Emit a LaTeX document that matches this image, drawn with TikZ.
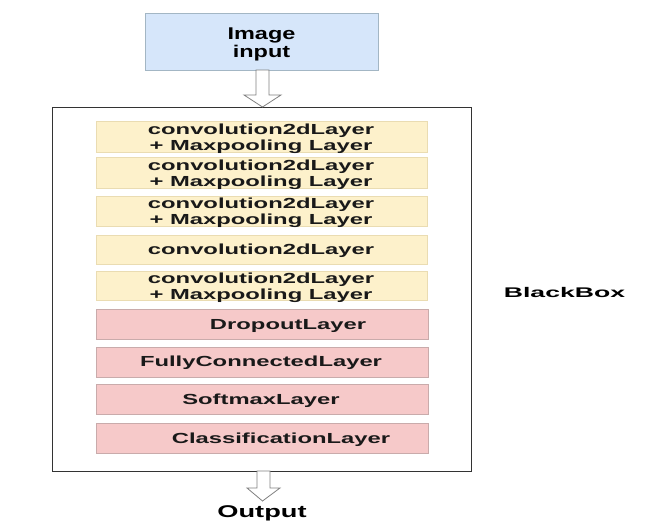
\documentclass[tikz,border=0pt]{standalone}
\usepackage{fontspec}
\usetikzlibrary{calc}
\newfontfamily\wideA[FakeStretch=1.63,UprightFont=* Bold]{Liberation Sans}
\newfontfamily\wideB[FakeStretch=1.38,UprightFont=* Bold]{Liberation Sans}
\newfontfamily\wideC[FakeStretch=1.6,UprightFont=* Bold]{Liberation Sans}
\newfontfamily\wideD[FakeStretch=1.9,UprightFont=* Bold]{Liberation Sans}
\definecolor{bluefill}{HTML}{D6E6FA}
\definecolor{blueline}{HTML}{A3B6C4}
\definecolor{yelfill}{HTML}{FDF1CB}
\definecolor{yelline}{HTML}{EADCB2}
\definecolor{pinkfill}{HTML}{F6C9C9}
\definecolor{pinkline}{HTML}{C9ABAB}
\definecolor{arrowline}{HTML}{808080}
\begin{document}
\begin{tikzpicture}[x=1pt,y=-1pt,
  inbox/.style={draw=blueline,fill=bluefill,line width=1pt,inner sep=0pt},
  convbox/.style={draw=yelline,fill=yelfill,line width=0.8pt,inner sep=0pt},
  densebox/.style={draw=pinkline,fill=pinkfill,line width=0.8pt,inner sep=0pt},
  layertext/.style={font=\wideA\fontsize{14.6}{16}\selectfont,align=center,text=black!90,inner sep=0pt},
  hollowarrow/.style={draw=arrowline,fill=white,line width=0.8pt,line join=miter}]
\useasboundingbox (0,0) rectangle (657,528);
% outer black box
\draw[black!80,line width=1pt] (52,107) rectangle (471,471);
\coordinate (bbN) at (262.5,107);
\coordinate (bbS) at (263.5,471);
% input
\draw[inbox] (145,13) rectangle (378,70);
\node[font=\wideB\fontsize{17}{18.5}\selectfont,align=center,inner sep=0pt] (input) at (261.5,44.5) {Image\\input};
\coordinate (inS) at (262.5,70);
% layers
\draw[convbox] (96,121) rectangle (427,152);
\node[layertext] (l1) at (261,138.5) {convolution2dLayer\\+ Maxpooling Layer};
\draw[convbox] (96,157) rectangle (427,188);
\node[layertext] (l2) at (261,174.5) {convolution2dLayer\\+ Maxpooling Layer};
\draw[convbox] (96,196) rectangle (427,226);
\node[layertext] (l3) at (261,213) {convolution2dLayer\\+ Maxpooling Layer};
\draw[convbox] (96,235) rectangle (427,264);
\node[layertext] (l4) at (261,251) {convolution2dLayer};
\draw[convbox] (96,271) rectangle (427,300);
\node[layertext] (l5) at (261,287.5) {convolution2dLayer\\+ Maxpooling Layer};
\draw[densebox] (96,309) rectangle (428,339);
\node[layertext] (l6) at (288,326) {DropoutLayer};
\draw[densebox] (96,347) rectangle (428,377);
\node[layertext] (l7) at (261,363) {FullyConnectedLayer};
\draw[densebox] (96,384) rectangle (428,414);
\node[layertext] (l8) at (261,400.5) {SoftmaxLayer};
\draw[densebox] (96,423) rectangle (428,453);
\node[layertext] (l9) at (281,439.5) {ClassificationLayer};
% labels
\node[font=\wideD\fontsize{14}{16}\selectfont,inner sep=0pt] (bbl) at (564.5,292) {BlackBox};
\node[font=\wideC\fontsize{17}{19}\selectfont,inner sep=0pt] (out) at (262,513) {Output};
\coordinate (outN) at (262.5,501);
% arrows
\draw[hollowarrow] ($(inS)+(-6.5,0)$) -- ($(inS)+(6.5,0)$) -- ($(inS)+(6.5,25)$) -- ($(inS)+(18.5,25)$)
  -- (bbN) -- ($(inS)+(-18.5,25)$) -- ($(inS)+(-6.5,25)$) -- cycle;
\draw[hollowarrow] ($(bbS)+(-6.5,0)$) -- ($(bbS)+(6.5,0)$) -- ($(bbS)+(6.5,17)$) -- ($(bbS)+(16.5,17)$)
  -- (outN) -- ($(bbS)+(-16.5,17)$) -- ($(bbS)+(-6.5,17)$) -- cycle;
\end{tikzpicture}
\end{document}
